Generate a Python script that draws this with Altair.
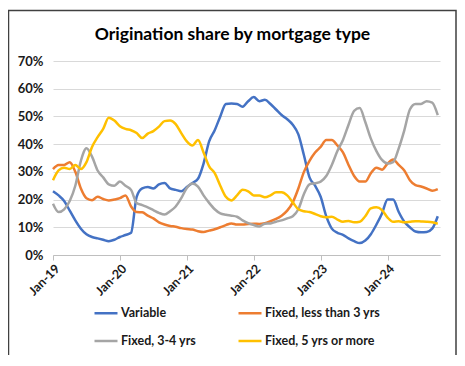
import altair as alt
import pandas as pd

# Monthly observations, Jan-19 .. Oct-24 (index 0 = Jan-19)
series_names = ["Variable", "Fixed, 3-4 yrs", "Fixed, less than 3 yrs", "Fixed, 5 yrs or more"]
series_colors = ["#4472C4", "#A5A5A5", "#ED7D31", "#FFC000"]
year_ticks = [0, 12, 24, 36, 48, 60]
y_ticks = [0, 0.1, 0.2, 0.3, 0.4, 0.5, 0.6, 0.7]

variable = [23, 21.5, 19.5, 16, 12.5, 9.5, 7.5, 6.5, 6, 5.5, 5, 5.5,
            6.5, 7.2, 8, 21, 24, 24.5, 24, 25.5, 26, 24, 23.5, 23,
            24.5, 26, 27.5, 33, 41, 45, 50, 54.5, 54.7, 54.5, 53.5, 55.5,
            57, 55.5, 56, 54.5, 52.5, 50.5, 49, 47, 43.5, 36, 28, 25,
            21, 14, 9.5, 8, 7.3, 6, 5, 4.3, 5.2, 7.5, 11, 15,
            20, 20, 15.5, 12, 10, 8.5, 8.2, 8.3, 9.5, 14]

fixed_lt3 = [31, 32.5, 32.5, 33.5, 30, 24, 20.5, 19.8, 21, 20.2, 19.7, 20,
             20.5, 21.5, 17.5, 15.5, 15.4, 14.2, 13.2, 11.8, 11, 10.5, 10.2, 9.7,
             9.4, 9.2, 8.6, 8.3, 8.8, 9.3, 10, 10.8, 11.4, 11, 11, 11.2,
             11.3, 11.2, 11.5, 12.2, 13, 14.2, 16, 19, 24, 30, 34, 37,
             39, 41.5, 41.5, 39.5, 37, 32.5, 28.5, 26.5, 26.5, 29.5, 31.5, 30.8,
             33, 34.5, 32.5, 30.5, 27, 25.2, 24.7, 24, 23.2, 23.8]

fixed_34 = [18.5, 15.5, 16.5, 19.5, 25, 34, 38.5, 35.5, 30.5, 28, 25.5, 25,
            26.5, 25, 23.5, 18.8, 18, 17.2, 16.2, 15.2, 14.6, 15.8, 17.5, 20.5,
            24.2, 25.8, 24.7, 21.5, 18.8, 16.5, 15, 14.5, 14.2, 13.8, 12.5, 11.5,
            10.8, 10.3, 11.3, 11.4, 12, 12.5, 13.2, 14, 16.5, 22, 25.5, 25.9,
            26.5, 28.5, 32.5, 37.5, 41.5, 47, 52, 53, 48, 42, 37.5, 34.3,
            33, 33.5, 38.5, 45, 52.5, 54.5, 54.5, 55.5, 55, 50.5]

fixed_5p = [27, 30.5, 31.5, 31, 32.5, 31, 33.5, 39, 42.5, 45.5, 49.5, 48.5,
            46.5, 45.5, 45, 44, 42.2, 43.8, 44.7, 46.3, 48.3, 48.5, 47.2, 44,
            41, 39.5, 41.5, 37, 32, 29.5, 25, 21, 19.7, 21.5, 23.5, 23,
            21.5, 21.5, 20.8, 21.5, 22.6, 22.6, 21.5, 19, 16.5, 15.8, 15.5, 14.8,
            14, 13.6, 13.8, 12.8, 12, 12.3, 11.8, 12, 14, 16.8, 17.2, 16.2,
            13.5, 12, 12.2, 11.8, 12, 12.2, 12.1, 12, 11.8, 11.3]

rows = []
for name, vals in zip(["Variable", "Fixed, less than 3 yrs", "Fixed, 3-4 yrs", "Fixed, 5 yrs or more"],
                      [variable, fixed_lt3, fixed_34, fixed_5p]):
    for i, v in enumerate(vals):
        rows.append({"month": i, "series": name, "share": v / 100.0})
df = pd.DataFrame(rows)

FONT = "Lato"

lines = alt.Chart(df).mark_line(strokeWidth=2.5, interpolate="monotone").encode(
    x=alt.X("month:Q",
            scale=alt.Scale(domain=[0, 69.4], nice=False, zero=False),
            axis=alt.Axis(values=year_ticks, title=None, grid=False,
                          labelExpr="'Jan-' + format(19 + datum.value / 12, 'd')",
                          labelAngle=-45, labelFont=FONT, labelFontSize=12.5,
                          labelFontWeight="bold", labelColor="#1a1a1a",
                          domainColor="#bfbfbf", tickColor="#bfbfbf", tickSize=5,
                          labelPadding=2)),
    y=alt.Y("share:Q",
            scale=alt.Scale(domain=[0, 0.7], nice=False),
            axis=alt.Axis(values=y_ticks, format=".0%", title=None, domain=False,
                          ticks=False, gridColor="#d9d9d9", labelFont=FONT,
                          labelFontSize=13, labelFontWeight="bold",
                          labelColor="#1a1a1a", labelPadding=10)),
    color=alt.Color("series:N",
                    scale=alt.Scale(domain=series_names, range=series_colors),
                    sort=series_names,
                    legend=alt.Legend(title=None, orient="none", legendX=40, legendY=239,
                                      columns=2, symbolType="stroke", symbolSize=529,
                                      symbolStrokeWidth=2.5, labelFont=FONT,
                                      labelFontSize=12.5, labelFontWeight="bold",
                                      labelColor="#1a1a1a", columnPadding=36,
                                      rowPadding=8, labelOffset=2, padding=0)),
)

frame = alt.Chart(pd.DataFrame({"k": [0]})).mark_rect(
    fillOpacity=0, stroke="#404040", strokeWidth=1.5
).encode(
    x=alt.value(-44.5), x2=alt.value(403), y=alt.value(-50.5), y2=alt.value(295)
)

chart = alt.layer(frame, lines).properties(
    width=387, height=194,
    padding={"left": 45, "top": 53, "right": 17, "bottom": 100},
    autosize=alt.AutoSizeParams(type="none"),
    title=alt.TitleParams("Origination share by mortgage type", font=FONT,
                          fontSize=17.5, fontWeight="bold", color="black",
                          anchor="middle", dx=-14, dy=52, offset=18),
).configure_view(stroke=None)

chart.save("out.html", embed_options={"renderer": "svg", "actions": False})
